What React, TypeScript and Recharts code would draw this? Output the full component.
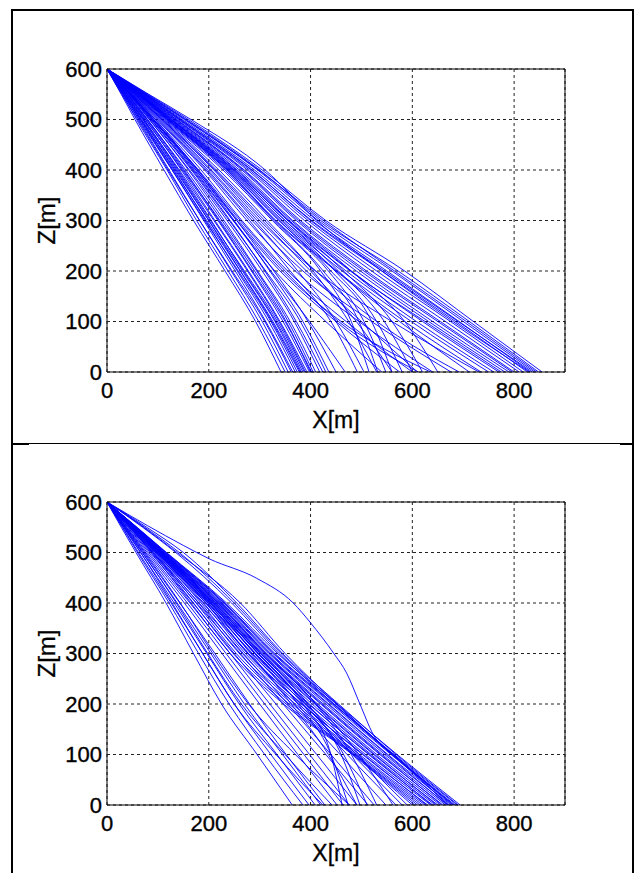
import React from 'react';
import { LineChart, Line, XAxis, YAxis, CartesianGrid, ReferenceLine } from 'recharts';

// depth levels (Z) at which each trajectory's X position is read
const zLevels = [600, 550, 500, 400, 300, 200, 100, 0];
const xTicks = [0, 200, 400, 600, 800];
const zTicks = [0, 100, 200, 300, 400, 500, 600];

// ---------- upper panel ----------
const topSteepX = [
  [0, 28, 55, 112, 170, 232, 292, 342],
  [0, 30, 58, 118, 176, 238, 298, 350],
  [0, 32, 62, 122, 182, 244, 305, 356],
  [0, 29, 60, 120, 182, 246, 310, 362],
  [0, 33, 65, 128, 190, 252, 312, 365],
  [0, 35, 68, 132, 194, 256, 318, 370],
  [0, 31, 63, 128, 192, 258, 322, 374],
  [0, 36, 70, 136, 200, 262, 324, 378],
  [0, 34, 67, 134, 200, 266, 330, 382],
  [0, 38, 73, 140, 205, 268, 332, 385],
  [0, 37, 72, 142, 210, 276, 338, 390],
  [0, 40, 76, 146, 212, 278, 340, 393],
  [0, 39, 75, 148, 218, 284, 346, 398],
  [0, 42, 80, 152, 220, 286, 350, 402],
  [0, 41, 79, 155, 226, 294, 356, 405],
  [0, 44, 84, 160, 230, 296, 360, 410],
  [0, 43, 83, 162, 236, 305, 368, 418],
  [0, 46, 88, 168, 242, 310, 372, 424],
  [0, 45, 86, 166, 240, 312, 380, 430],
  [0, 48, 92, 175, 250, 320, 385, 436],
  [0, 50, 95, 178, 255, 328, 395, 450],
  [0, 47, 90, 172, 248, 322, 398, 468],
  [0, 36, 71, 138, 203, 270, 335, 388],
  [0, 33, 66, 130, 196, 262, 326, 380],
  [0, 40, 78, 150, 222, 290, 352, 400],
];

const topMiddleX = [
  [0, 60, 118, 235, 330, 435, 505, 548],
  [0, 62, 122, 242, 342, 448, 530, 580],
  [0, 58, 114, 228, 325, 420, 480, 515],
  [0, 64, 126, 250, 355, 465, 560, 620],
  [0, 61, 120, 238, 338, 440, 520, 560],
  [0, 66, 130, 256, 362, 480, 585, 650],
  [0, 59, 116, 232, 328, 425, 495, 532],
  [0, 45, 90, 175, 255, 340, 450, 575],
  [0, 48, 95, 185, 265, 355, 470, 600],
  [0, 44, 87, 170, 248, 330, 430, 540],
  [0, 50, 98, 192, 275, 370, 495, 640],
  [0, 52, 102, 198, 285, 385, 520, 676],
  [0, 47, 92, 180, 262, 350, 455, 612],
  [0, 54, 106, 205, 295, 392, 500, 610],
  [0, 55, 108, 212, 305, 400, 490, 560],
  [0, 53, 104, 202, 290, 375, 450, 505],
  [0, 56, 110, 215, 310, 410, 530, 692],
  [0, 57, 112, 220, 315, 405, 475, 530],
  [0, 51, 100, 195, 280, 360, 440, 492],
  [0, 46, 91, 178, 258, 345, 460, 636],
  [0, 63, 124, 246, 350, 455, 545, 600],
  [0, 55, 108, 210, 300, 410, 560, 731],
];

const topShallowX = [
  [0, 80, 160, 305, 430, 585, 720, 855],
  [0, 78, 156, 300, 420, 572, 712, 848],
  [0, 76, 152, 296, 415, 560, 700, 840],
  [0, 75, 148, 290, 408, 550, 692, 832],
  [0, 74, 145, 285, 400, 540, 685, 826],
  [0, 72, 142, 280, 395, 530, 675, 818],
  [0, 71, 140, 276, 388, 520, 665, 810],
  [0, 70, 137, 270, 380, 510, 655, 800],
  [0, 68, 134, 265, 372, 498, 640, 790],
  [0, 67, 132, 260, 365, 490, 632, 782],
  [0, 66, 128, 254, 358, 480, 620, 770],
  [0, 64, 125, 248, 350, 470, 608, 760],
  [0, 63, 122, 244, 345, 462, 598, 750],
  [0, 62, 120, 240, 338, 452, 585, 735],
  [0, 60, 118, 236, 332, 450, 575, 712],
  [0, 82, 165, 311, 412, 540, 680, 830],
  [0, 77, 154, 298, 425, 565, 706, 844],
  [0, 73, 144, 284, 402, 545, 690, 836],
  [0, 69, 136, 268, 376, 505, 650, 796],
  [0, 65, 127, 251, 356, 478, 625, 775],
];

// ---------- lower panel ----------
const bottomBandX = [
  [0, 59, 117, 235, 335, 452, 570, 694],
  [0, 58, 116, 232, 330, 446, 564, 688],
  [0, 57, 114, 229, 326, 441, 558, 682],
  [0, 57, 113, 226, 322, 436, 552, 676],
  [0, 56, 111, 222, 318, 430, 546, 670],
  [0, 55, 110, 220, 314, 425, 541, 665],
  [0, 55, 109, 217, 310, 420, 536, 660],
  [0, 54, 107, 214, 305, 414, 530, 655],
  [0, 53, 106, 211, 301, 408, 524, 650],
  [0, 53, 105, 208, 297, 403, 519, 645],
  [0, 52, 103, 205, 292, 398, 514, 640],
  [0, 51, 101, 200, 284, 390, 508, 636],
  [0, 50, 99, 195, 278, 383, 502, 630],
  [0, 49, 97, 190, 272, 376, 496, 625],
  [0, 48, 95, 185, 266, 370, 492, 620],
  [0, 47, 93, 180, 260, 364, 488, 615],
  [0, 46, 91, 175, 254, 358, 486, 610],
  [0, 45, 89, 170, 248, 352, 484, 605],
  [0, 44, 87, 165, 242, 347, 482, 600],
  [0, 58, 115, 230, 328, 444, 562, 680],
  [0, 56, 112, 224, 320, 434, 550, 668],
  [0, 55, 109, 218, 312, 422, 538, 658],
  [0, 53, 106, 212, 303, 410, 526, 648],
  [0, 52, 102, 204, 290, 396, 516, 638],
  [0, 50, 98, 194, 276, 382, 504, 628],
];

const bottomBowX = [
  [0, 78, 150, 255, 345, 455, 568, 690],
  [0, 74, 142, 250, 342, 450, 562, 684],
  [0, 72, 138, 262, 350, 452, 560, 672],
  [0, 70, 135, 245, 338, 446, 560, 678],
];

const bottomSteepX = [
  [0, 28, 57, 116, 170, 225, 295, 364],
  [0, 30, 60, 122, 180, 240, 310, 385],
  [0, 31, 62, 126, 188, 250, 322, 397],
  [0, 33, 66, 132, 196, 260, 334, 409],
  [0, 34, 69, 138, 204, 270, 345, 420],
  [0, 36, 72, 143, 212, 280, 352, 428],
  [0, 38, 76, 152, 226, 300, 375, 452],
  [0, 39, 79, 158, 234, 310, 387, 464],
  [0, 41, 82, 163, 242, 320, 398, 476],
  [0, 42, 85, 169, 250, 332, 412, 491],
  [0, 44, 89, 176, 262, 346, 430, 513],
  [0, 46, 91, 181, 268, 355, 440, 525],
  [0, 47, 95, 188, 278, 368, 458, 548],
  [0, 49, 98, 194, 286, 378, 472, 568],
  [0, 50, 100, 198, 292, 386, 482, 580],
  [0, 51, 102, 202, 298, 392, 490, 590],
  [0, 52, 104, 206, 296, 385, 440, 462],
  [0, 53, 106, 210, 302, 395, 460, 497],
  [0, 51, 102, 202, 290, 375, 440, 474],
  [0, 54, 108, 214, 308, 410, 480, 530],
  [0, 52, 105, 208, 298, 390, 465, 511],
  [0, 50, 100, 198, 282, 362, 435, 491],
  [0, 55, 110, 218, 312, 412, 495, 562],
  [0, 35, 70, 136, 198, 264, 350, 442],
  [0, 37, 74, 144, 208, 278, 370, 476],
  [0, 33, 66, 128, 188, 250, 332, 424],
];

// the one trajectory that bows far out in the lower panel
const bottomOutlierX = [0, 80, 150, 202, 294, 366, 399, 445, 471, 497, 523, 570, 670];
const bottomOutlierZ = [600, 553, 514, 487, 449, 400, 362, 301, 261, 200, 140, 95, 0];

type Pt = { x: number; z: number };

const toSeries = (xs: number[], zs: number[] = zLevels): Pt[] =>
  xs.map((x, i) => ({ x, z: zs[i] }));

const topSeries: Pt[][] = [...topSteepX, ...topMiddleX, ...topShallowX].map((xs) => toSeries(xs));
const bottomSeries: Pt[][] = [
  ...[...bottomBandX, ...bottomBowX, ...bottomSteepX].map((xs) => toSeries(xs)),
  toSeries(bottomOutlierX, bottomOutlierZ),
];

const FONT = '"Liberation Sans", Arial, sans-serif';
const CHART_W = 636;
const CHART_H = 440;

const XLabel = (props: any) => {
  const vb = props.viewBox || { x: 107, y: 372, width: 458, height: 30 };
  return (
    <text
      x={vb.x + vb.width / 2}
      y={vb.y + 56}
      textAnchor="middle"
      fontSize={23}
      fontFamily={FONT}
      fill="#000"
      stroke="#000"
      strokeWidth={0.3}
    >
      X[m]
    </text>
  );
};

const ZLabel = (props: any) => {
  const vb = props.viewBox || { x: 47, y: 69, width: 60, height: 303 };
  const cx = vb.x - 1;
  const cy = vb.y + vb.height / 2;
  return (
    <text
      x={cx}
      y={cy}
      transform={`rotate(-90 ${cx} ${cy})`}
      textAnchor="middle"
      dominantBaseline="central"
      fontSize={24}
      fontFamily={FONT}
      fill="#000"
      stroke="#000"
      strokeWidth={0.3}
    >
      Z[m]
    </text>
  );
};

const tickStyle = { fill: '#000', fontSize: 22, fontFamily: FONT, stroke: '#000', strokeWidth: 0.35 };

function Panel({ series, top }: { series: Pt[][]; top: number }) {
  return (
    <div style={{ position: 'absolute', left: 0, top, width: CHART_W, height: CHART_H }}>
      <LineChart
        width={CHART_W}
        height={CHART_H}
        margin={{ top: 69, right: 71, bottom: 38, left: 47 }}
      >
        <CartesianGrid stroke="#222" strokeDasharray="3 3" strokeWidth={1} />
        <XAxis
          type="number"
          dataKey="x"
          domain={[0, 900]}
          ticks={xTicks}
          allowDataOverflow
          height={30}
          tickSize={0}
          tickMargin={10}
          tickLine={false}
          axisLine={{ stroke: '#000', strokeWidth: 1 }}
          tick={tickStyle}
          label={<XLabel />}
        />
        <YAxis
          type="number"
          dataKey="z"
          domain={[0, 600]}
          ticks={zTicks}
          allowDataOverflow
          width={60}
          tickSize={0}
          tickMargin={5}
          tickLine={false}
          axisLine={{ stroke: '#000', strokeWidth: 1 }}
          tick={tickStyle}
          label={<ZLabel />}
        />
        {series.map((d, i) => (
          <Line
            key={i}
            data={d}
            dataKey="z"
            type="monotone"
            stroke="#0000ff"
            strokeWidth={1}
            strokeOpacity={0.9}
            dot={false}
            activeDot={false}
            isAnimationActive={false}
          />
        ))}
        <ReferenceLine y={600} stroke="#000" strokeWidth={1} />
        <ReferenceLine x={900} stroke="#000" strokeWidth={1} />
      </LineChart>
    </div>
  );
}

const line = (style: React.CSSProperties) => (
  <div style={{ position: 'absolute', background: '#000', ...style }} />
);

export default function App() {
  return (
    <div
      style={{
        position: 'absolute',
        left: 0,
        top: 0,
        width: 636,
        height: 873,
        background: '#fff',
        overflow: 'hidden',
      }}
    >
      <Panel series={topSeries} top={0} />
      <Panel series={bottomSeries} top={433} />
      {line({ left: 11, top: 9, width: 623, height: 2 })}
      {line({ left: 11, top: 9, width: 2, height: 864 })}
      {line({ left: 632, top: 9, width: 2, height: 864 })}
      {line({ left: 11, top: 443, width: 623, height: 1 })}
      {line({ left: 11, top: 443, width: 18, height: 2 })}
      {line({ left: 620, top: 443, width: 14, height: 2 })}
    </div>
  );
}
